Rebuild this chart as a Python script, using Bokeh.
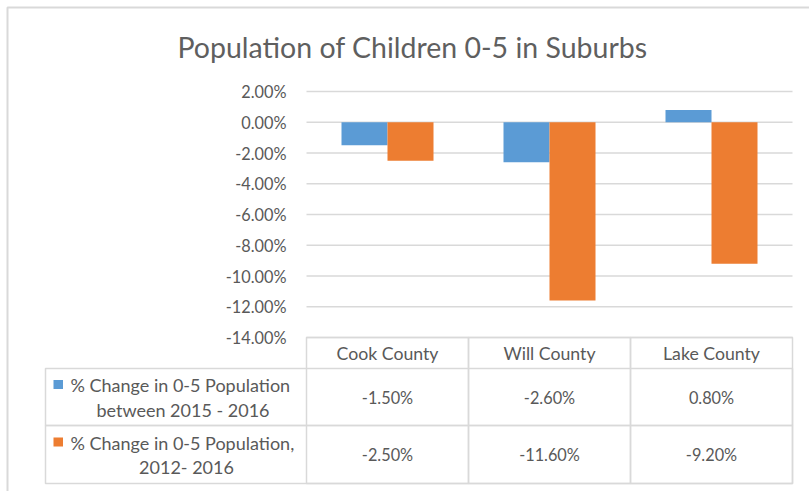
from bokeh.plotting import figure
from bokeh.models import Range1d, ColumnDataSource
from bokeh.core.properties import value
from bokeh.transform import dodge
from bokeh.embed import file_html
from bokeh.resources import INLINE

# ---------------- data ----------------
counties = ["Cook County", "Will County", "Lake County"]
change_2015_2016 = [-0.015, -0.026, 0.008]
change_2012_2016 = [-0.025, -0.116, -0.092]
series_line1 = ["% Change in 0-5 Population", "% Change in 0-5 Population,"]
series_line2 = ["between 2015 - 2016", "2012- 2016"]
y_ticks = [0.02, 0.0, -0.02, -0.04, -0.06, -0.08, -0.10, -0.12, -0.14]
title_text = "Population of Children 0-5 in Suburbs"

# ---------------- style ----------------
BLUE = "#5B9BD5"
ORANGE = "#ED7D31"
TEXT = "#595959"
GRID = "#D9D9D9"
FONT = "Lato"

W, H = 809, 491
FL, FR, FT, FB = 306, 792, 91, 337   # plot area in pixels
YMIN, YMAX = -0.14, 0.02
NCAT = len(counties)

def dx(px):
    return (px - FL) / (FR - FL) * NCAT

def dy(py):
    return YMAX - (py - FT) / (FB - FT) * (YMAX - YMIN)

p = figure(width=W, height=H,
           x_range=Range1d(dx(0), dx(W)),
           y_range=Range1d(dy(H), dy(0)),
           output_backend="svg", toolbar_location=None,
           min_border=0)
p.axis.visible = False
p.grid.visible = False
p.background_fill_color = "white"
p.border_fill_color = "white"
p.outline_line_color = None

cat_x = [i + 0.5 for i in range(NCAT)]
src = ColumnDataSource(dict(x=cat_x, county=counties, a=change_2015_2016, b=change_2012_2016))

# outer chart border
p.quad(left=[dx(7)], right=[dx(830)], top=[dy(7)], bottom=[dy(520)],
       fill_color=None, line_color=GRID, line_width=2)

# gridlines and y tick labels
p.segment(x0=[0] * len(y_ticks), x1=[NCAT] * len(y_ticks), y0=y_ticks, y1=y_ticks,
          line_color=GRID, line_width=1.5)
p.text(x=[dx(286)] * len(y_ticks), y=y_ticks, text=[f"{t * 100:.2f}%" for t in y_ticks],
       text_align="right", text_baseline="middle", text_font=value(FONT),
       text_font_size="16.3px", text_color=TEXT)

# bars
bw = 46 / 162
p.vbar(x=dodge("x", -bw / 2), top="a", bottom=0, width=bw,
       source=src, fill_color=BLUE, line_color=None)
p.vbar(x=dodge("x", bw / 2), top="b", bottom=0, width=bw,
       source=src, fill_color=ORANGE, line_color=None)

# title
p.text(x=[dx(412)], y=[dy(46)], text=[title_text], text_align="center",
       text_baseline="middle", text_font=value(FONT), text_font_size="28.5px",
       text_color="#5f5f5f")

# data table grid
col_edges = [306, 468, 630, 792]
row_edges = [337, 368, 425, 483]
p.quad(left=[dx(col_edges[i]) for i in range(NCAT)],
       right=[dx(col_edges[i + 1]) for i in range(NCAT)],
       top=[dy(row_edges[0])] * NCAT, bottom=[dy(row_edges[3])] * NCAT,
       fill_color=None, line_color=GRID, line_width=1.5)
p.quad(left=[dx(45)] * 2, right=[dx(792)] * 2,
       top=[dy(row_edges[1]), dy(row_edges[2])], bottom=[dy(row_edges[2]), dy(row_edges[3])],
       fill_color=None, line_color=GRID, line_width=1.5)

# header row
p.text(x=cat_x, y=[dy((row_edges[0] + row_edges[1]) / 2)] * NCAT, text=counties,
       text_align="center", text_baseline="middle", text_font=value(FONT),
       text_font_size="17.7px", text_color=TEXT)

# table rows
series_vals = [change_2015_2016, change_2012_2016]
series_cols = [BLUE, ORANGE]
line2_center = [182.5, 186]
for r in range(2):
    top, bot = row_edges[r + 1], row_edges[r + 2]
    mid = (top + bot) / 2
    l1 = mid - 12
    l2 = mid + 12.5
    p.quad(left=[dx(53)], right=[dx(62.5)], top=[dy(l1 - 5)], bottom=[dy(l1 + 4)],
           fill_color=series_cols[r], line_color=None)
    p.text(x=[dx(70)], y=[dy(l1)], text=[series_line1[r]], text_align="left",
           text_baseline="middle", text_font=value(FONT), text_font_size="18px",
           text_color=TEXT)
    p.text(x=[dx(line2_center[r])], y=[dy(l2)], text=[series_line2[r]], text_align="center",
           text_baseline="middle", text_font=value(FONT), text_font_size="18px",
           text_color=TEXT)
    p.text(x=cat_x, y=[dy(mid)] * NCAT, text=[f"{v * 100:.2f}%" for v in series_vals[r]],
           text_align="center", text_baseline="middle", text_font=value(FONT),
           text_font_size="16.3px", text_color=TEXT)

open("out.html", "w").write(file_html(p, INLINE))
